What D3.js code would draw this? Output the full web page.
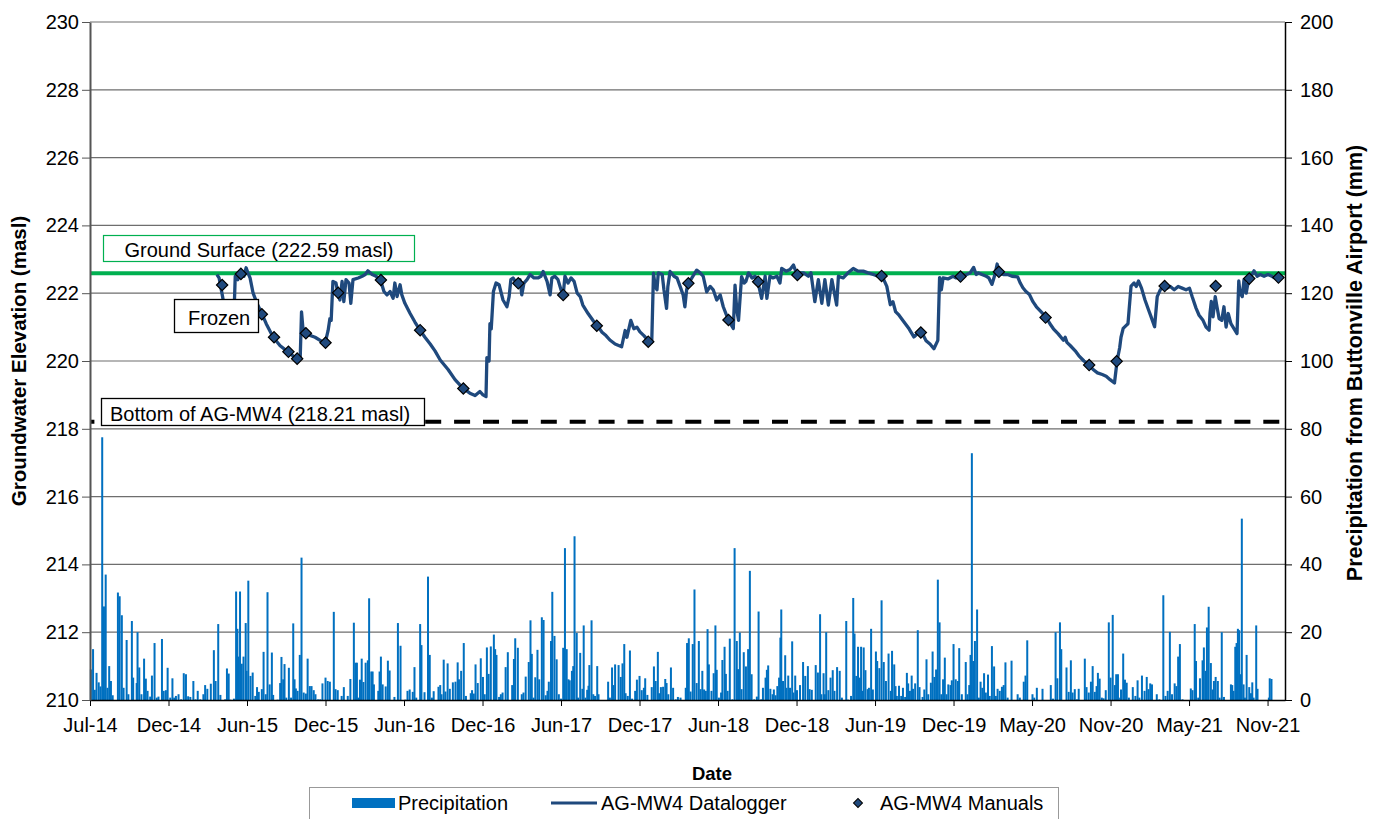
<!DOCTYPE html>
<html>
<head>
<meta charset="utf-8">
<script src="https://cdnjs.cloudflare.com/ajax/libs/d3/7.8.5/d3.min.js"></script>
<style>
  body { margin: 0; background: #fff; }
  svg { display: block; font-family: "Liberation Sans", Arial, sans-serif; }
</style>
</head>
<body>
<script>
'use strict';

// dates are stored as days since 1 Jul 2014
const startDate = new Date(2014, 6, 1);
const axisEndDay = 2740;
const dateTickDays = [0, 180, 360, 540, 720, 900, 1080, 1260, 1440, 1620, 1800, 1980, 2160, 2340, 2520, 2700];
const elevTicks = [210, 212, 214, 216, 218, 220, 222, 224, 226, 228, 230];
const precipTicks = [0, 20, 40, 60, 80, 100, 120, 140, 160, 180, 200];

const groundSurface = 222.59;
const wellBottom = 218.21;

// daily precipitation, Buttonville Airport (mm)
const precipDay = [
  2, 7, 11, 15, 20, 24, 28, 32, 36, 40, 44, 48, 52, 64, 68, 73, 77, 84, 88, 96, 99, 107, 109, 113, 118, 124, 128, 132, 138, 142,
  148, 153, 157, 165, 169, 174, 178, 184, 189, 193, 197, 203, 209, 215, 220, 225, 230, 237, 242, 247, 253, 260, 264, 269, 277, 284,
  288, 294, 299, 310, 314, 318, 322, 330, 335, 338, 340, 344, 348, 352, 357, 359, 363, 368, 373, 379, 383, 387, 394, 398, 403, 407,
  412, 417, 420, 430, 436, 439, 443, 446, 450, 456, 461, 466, 469, 472, 476, 481, 485, 490, 495, 499, 504, 508, 513, 517, 523, 528,
  533, 540, 545,
  550, 559, 563, 568, 577, 582, 591, 597, 605, 609, 612, 615, 619, 623, 627, 632, 637, 640, 645, 648, 651, 661, 664, 667, 671, 678,
  683, 687, 698, 706, 712, 723, 728, 733, 740, 744, 748, 757, 760, 767, 775, 779, 784, 788, 799, 803, 806, 811, 815, 820, 825, 832,
  838, 843, 846, 851, 857, 862, 873, 876, 880, 884, 889, 896, 901, 905, 910, 914, 919, 926, 929, 932, 938, 942, 946, 953, 958, 968,
  972, 975, 981, 990, 994, 999, 1006, 1010, 1013, 1017, 1021, 1026, 1030, 1036, 1040, 1045, 1049, 1052, 1057, 1060, 1065, 1070,
  1075, 1080, 1085, 1089, 1093, 1097,
  1100, 1105, 1108, 1111, 1116, 1119, 1124, 1129, 1132, 1136, 1140, 1143, 1145, 1150, 1154, 1158, 1163, 1166, 1188, 1192, 1197,
  1200, 1204, 1212, 1217, 1221, 1225, 1228, 1233, 1238, 1243, 1250, 1254, 1260, 1265, 1270, 1273, 1278, 1288, 1293, 1297, 1302,
  1305, 1309, 1314, 1319, 1322, 1326, 1332, 1337, 1343, 1348, 1354, 1366, 1369, 1373, 1377, 1382, 1386, 1391, 1396, 1400, 1404,
  1408, 1412, 1416, 1419, 1425, 1430, 1434, 1437, 1442, 1447, 1450, 1455, 1458, 1462, 1467, 1473, 1478, 1483, 1486, 1490, 1494,
  1499, 1504, 1509, 1513, 1517, 1523, 1529, 1533, 1539, 1543, 1549, 1552, 1555, 1560, 1565, 1568, 1572, 1576, 1580, 1583, 1585,
  1589, 1594, 1597, 1601, 1605, 1610, 1613, 1617, 1621, 1628, 1635, 1640, 1646,
  1650, 1655, 1664, 1669, 1674, 1677, 1682, 1685, 1688, 1693, 1698, 1703, 1707, 1713, 1719, 1724, 1734, 1738, 1745, 1750, 1753,
  1757, 1761, 1765, 1768, 1771, 1774, 1778, 1783, 1786, 1791, 1795, 1802, 1805, 1810, 1815, 1820, 1825, 1831, 1836, 1839, 1844,
  1847, 1850, 1855, 1860, 1864, 1869, 1873, 1876, 1880, 1884, 1887, 1892, 1898, 1902, 1909, 1913, 1918, 1922, 1928, 1932, 1936,
  1940, 1944, 1948, 1952, 1956, 1960, 1964, 1968, 1973, 1976, 1980, 1985, 1990, 1993, 1999, 2008, 2012, 2016, 2019, 2022, 2025,
  2029, 2034, 2038, 2042, 2046, 2050, 2054, 2059, 2063, 2068, 2073, 2077, 2081, 2086, 2091, 2095, 2099, 2104, 2113, 2127, 2132,
  2141, 2145, 2149, 2161, 2165, 2171, 2184,
  2203, 2208, 2214, 2218, 2224, 2227, 2239, 2244, 2249, 2253, 2258, 2263, 2267, 2281, 2285, 2290, 2295, 2299, 2304, 2308, 2311,
  2315, 2320, 2324, 2329, 2336, 2340, 2345, 2350, 2353, 2357, 2362, 2364, 2369, 2373, 2377, 2382, 2391, 2397, 2402, 2406, 2412,
  2418, 2423, 2427, 2431, 2435, 2446, 2452, 2461, 2466, 2471, 2476, 2481, 2487, 2491, 2495, 2499, 2505, 2524, 2528, 2533, 2536,
  2541, 2545, 2551, 2554, 2558, 2561, 2565, 2570, 2574, 2577, 2581, 2586, 2590, 2595, 2600, 2616, 2619, 2622, 2626, 2629, 2632,
  2635, 2639, 2641, 2645, 2648, 2652, 2658, 2662, 2665, 2668, 2674, 2677, 2703, 2705, 2709
];
const precipMm = [
  9, 15, 3, 8, 5.2, 4, 77.5, 27.6, 37, 3.6, 10, 5.6, 1.4, 31.7, 30.6, 25, 3.6, 17.7, 1.7, 23.3, 6.6, 5, 20, 9.6, 1.7, 12.2, 6.3, 2.7, 1, 7.2,
  16.8, 0.7, 1, 18, 2.7, 2.9, 9.5, 0.7, 6.4, 0.7, 1.2, 1.7, 0.2, 7.9, 7.6, 1.1, 0.9, 5.6, 0.2, 2.7, 0.2, 1.7, 4.4, 3.3, 4.8, 14.7,
  5.6, 22.4, 1.5, 0.2, 9.3, 7.8, 0.1, 0.4, 32, 21, 12.8, 32, 10.7, 12.8, 22.7, 8.6, 35.2, 7.1, 8.1, 1.2, 3.8, 2.4, 3.2, 14.2, 1.7, 31.8,
  4.6, 14, 1.5, 0.1, 5, 12.7, 6.1, 10.6, 0.7, 9.5, 0.7, 22.6, 6.1, 3.4, 2.7, 13.3, 42, 2.2, 1.9, 12.2, 4.1, 4.1, 2.9, 1.7, 0.2, 0.2,
  4.9, 6.6, 5.6,
  5.4, 26, 3.2, 2.9, 1.2, 3.8, 1.2, 6.2, 22.8, 11, 11, 0.7, 6, 12.2, 5.3, 11, 11.7, 30, 8.4, 8.4, 4.6, 2.7, 8.4, 12.8, 4.6, 4,
  11.6, 8.7, 0.9, 22.7, 16, 0.1, 2.7, 3.1, 2.4, 9.7, 0.7, 22.4, 16.2, 2.3, 36.4, 13.3, 0.7, 2.6, 3.9, 4.4, 1.7, 11.9, 2.5, 10.8, 3.3, 5.2,
  5.4, 11.1, 6.1, 8.6, 16.8, 1.2, 2, 2.9, 1.9, 10.5, 5, 12.3, 6.8, 1.7, 15.5, 7.7, 15.8, 19.3, 15, 13.3, 0.9, 1.7, 2.2, 9.7, 14.1, 4.4,
  12.1, 18.2, 15.4, 1.7, 2.2, 6.9, 11.2, 23.5, 13.6, 0.7, 6.7, 14.8, 6.1, 24.4, 23.6, 1.4, 2.7, 5.4, 17.4, 31.9, 18.9, 12,
  1.7, 0.4, 15.4, 44.8, 15, 6.1,
  5.8, 8.6, 10, 48.3, 19.8, 0.7, 13.9, 3.3, 22, 0.7, 3, 4.2, 10.3, 23.5, 1.7, 1.2, 10, 1.7, 5.4, 0.7, 9.6,
  4.4, 10.5, 10.3, 6.8, 10.8, 16.5, 2, 1.2, 14.6, 0.4, 2.7, 6, 7.1, 2.9, 3.6, 6.4, 1.5, 3.8, 9.9, 5.6, 14.2,
  2, 3.8, 3.9, 6.2, 5, 1.7, 9.6, 3.6, 0.2, 0.9, 0.7, 3.6, 16.8, 18.2, 2.5, 16.5, 32.6, 5, 17.4, 3.2, 8.6,
  3.1, 2.7, 20.9, 10.5, 2.7, 7.9, 22, 8.9, 0.7, 2.2, 11.8, 15.7, 7.7, 2.7, 18.1, 0.2, 44.8, 17.4, 9.1, 19.9, 3.2,
  14.1, 9.9, 15, 38.1, 7.6, 0.2, 1, 26.1, 0.2, 3.6, 6.6, 8.9, 10.2, 3.3, 1.7, 3.1, 1.4, 4.1, 6.6, 18.4, 26.7,
  5.6, 13.2, 3.6, 7.2, 3.6, 17.3, 2.2, 7.2, 2.9, 4.4, 11.2, 7.1, 10,
  3.2, 3, 10.3, 8.1, 25.3, 1.7, 7.9, 1.7, 20, 2.9, 6.6, 8.8, 2.7, 9.7, 8.6, 0.7, 23.3, 0.1, 1.2, 30.1, 19.6,
  7.1, 15.7, 6.6, 15.7, 2.7, 15.5, 8.8, 3.2, 3.6, 21, 3.1, 14.3, 11.5, 9.4, 29.4, 11.2, 5.6, 13.7, 2.7, 14.5, 10.5,
  4.1, 1.2, 4.2, 1.2, 3.6, 0.9, 8, 4.9, 2.7, 7.2, 3.3, 4.9, 20.6, 3.8, 0.9, 3.1, 12, 1.7, 5.1, 14.3, 6.8,
  9, 35.5, 22.9, 1.7, 6.1, 12.5, 1.7, 4.6, 4.4, 5.8, 16.5, 6.1, 5.6, 15.3, 1.7, 11.2, 1.7, 4.4, 13.3, 72.8, 11.5,
  17.4, 26.7, 0.7, 5.4, 3.6, 7.9, 2.2, 7.5, 1.2, 15.9, 9.9, 1.2, 3.3, 2.7, 3.9, 4.4, 11.1, 0.7, 11.6, 1.7, 0.7,
  5.4, 7.2, 17.6, 1.7, 0.7, 3.6, 3.3,
  4.4, 0.4, 20, 6.4, 22.9, 15, 9.6, 2.4, 11.7, 2.2, 3.2, 0.2, 3.3, 12.2, 3.8, 2.2, 5.4, 10, 2.4, 4.1, 8,
  6.3, 0.7, 0.5, 2.9, 22.9, 6.6, 25.1, 4.4, 7.6, 7.6, 0.7, 3.1, 13.7, 6, 5.1, 0.7, 3.8, 1.2, 5.8, 0.7, 7.2,
  2.7, 6.8, 3.2, 4.9, 4.6, 1.7, 0.2, 30.9, 1.2, 2.7, 20.1, 1.7, 4.9, 4.1, 12.8, 16.5, 0.2, 3.4, 2.9, 22.4, 11.5,
  0.7, 6.4, 11.7, 15.5, 8.6, 21.4, 27.5, 10.9, 3.1, 5.6, 6.8, 5.6, 0.7, 20, 0.9, 4.6, 4.4, 2.7, 15.7, 16.8, 21,
  20.6, 7.6, 53.5, 4.6, 0.7, 13.3, 3.8, 2, 5.2, 0.7, 22, 3.3, 0.7, 6.4, 6.2
];

// AG-MW4 datalogger groundwater elevation (masl)
const loggerDay = [
  291, 296, 304, 312, 321, 330, 333, 339, 346, 353, 358, 362, 367, 374, 383, 394, 404, 420, 436, 454,
  475, 482, 485, 488, 495, 516, 539, 546, 550, 553, 557, 564, 569, 573, 578, 582, 587, 594, 598, 603,
  615, 624, 631, 637, 647, 656, 667, 674, 681, 688, 695, 699, 704, 711, 715, 722, 734, 745, 757, 768,
  780, 791, 803, 821, 837, 855, 871, 883, 894, 901, 908, 910, 915, 917, 920, 925, 931, 938, 947, 956,
  961, 965, 970, 975, 981, 986, 990, 995, 1002, 1009, 1018, 1027, 1034, 1039, 1048, 1055, 1059, 1066, 1073, 1080,
  1085, 1089, 1096, 1103, 1110, 1117, 1124, 1130, 1142, 1153, 1163, 1174, 1183, 1192, 1204, 1219, 1227, 1231, 1240, 1247,
  1254, 1261, 1270, 1280, 1288, 1292, 1296, 1300, 1303, 1312, 1316, 1322, 1325, 1330, 1339, 1346, 1353, 1360, 1364, 1368,
  1372, 1380, 1391, 1399, 1406, 1414, 1422, 1429, 1437, 1445, 1452, 1464, 1475, 1479, 1483, 1487, 1494, 1500, 1504, 1510,
  1518, 1525, 1532, 1540, 1548, 1552, 1559, 1566, 1575, 1582, 1586, 1596, 1605, 1613, 1621, 1628, 1636, 1647, 1653, 1662,
  1670, 1678, 1685, 1693, 1701, 1712, 1716, 1727, 1738, 1750, 1761, 1773, 1784, 1796, 1807, 1815, 1827, 1835, 1841, 1847,
  1855, 1866, 1878, 1889, 1905, 1917, 1926, 1935, 1944, 1948, 1952, 1956, 1967, 1979, 1986, 1995, 2010, 2018, 2026, 2032,
  2037, 2045, 2055, 2061, 2068, 2075, 2080, 2084, 2094, 2104, 2114, 2127, 2133, 2139, 2146, 2154, 2162, 2170, 2181, 2193,
  2201, 2209, 2220, 2232, 2236, 2240, 2248, 2259, 2267, 2279, 2291, 2300, 2310, 2321, 2330, 2339, 2349, 2355, 2361, 2364,
  2369, 2376, 2380, 2387, 2394, 2399, 2404, 2411, 2419, 2427, 2433, 2441, 2447, 2454, 2462, 2470, 2477, 2486, 2495, 2504,
  2513, 2521, 2527, 2536, 2543, 2552, 2559, 2566, 2568, 2571, 2575, 2580, 2584, 2589, 2595, 2600, 2605, 2610, 2616, 2630,
  2634, 2637, 2642, 2646, 2651, 2657, 2662, 2669, 2676, 2683, 2692, 2701, 2710, 2717
];
const loggerElev = [
  222.55, 222.45, 221.9, 221.3, 221.0, 221.3, 222.5, 222.4, 222.6, 222.5, 222.75, 222.6, 222.45, 222.0, 221.7, 221.4, 221.1, 220.7, 220.45, 220.27,
  220.05, 220.1, 221.45, 221.0, 220.8, 220.7, 220.52, 220.9, 221.25, 221.2, 222.35, 222.3, 221.95, 221.8, 222.35, 221.75, 222.4, 222.3, 221.7, 222.4,
  222.45, 222.5, 222.55, 222.66, 222.55, 222.5, 222.35, 222.05, 221.95, 222.05, 221.85, 222.3, 221.9, 222.25, 221.95, 221.7, 221.4, 221.15, 220.9, 220.7,
  220.5, 220.3, 220.03, 219.75, 219.45, 219.2, 219.05, 218.98, 219.1, 219.0, 218.95, 220.1, 220.0, 221.1, 220.95, 222.05, 222.3, 222.25, 221.8, 221.6,
  221.9, 222.4, 222.45, 222.35, 222.3, 222.4, 221.95, 222.3, 222.4, 222.55, 222.45, 222.45, 222.5, 222.64, 222.35, 221.95, 222.45, 222.5, 222.4, 222.1,
  221.95, 222.5, 222.3, 222.45, 222.35, 222.0, 221.9, 221.65, 221.4, 221.2, 221.05, 220.85, 220.75, 220.62, 220.5, 220.42, 220.9, 220.7, 221.2, 220.95,
  221.0, 220.86, 220.75, 220.6, 220.55, 222.59, 222.2, 222.1, 222.6, 222.55, 222.1, 221.55, 222.2, 222.64, 222.5, 222.45, 222.2, 221.95, 221.6, 222.1,
  222.3, 222.45, 222.68, 222.6, 222.5, 222.04, 222.2, 222.1, 221.8, 221.95, 221.6, 221.2, 220.96, 222.24, 221.5, 221.2, 222.49, 222.3, 222.35, 222.6,
  222.45, 222.5, 222.3, 221.85, 222.5, 221.85, 222.5, 222.45, 222.5, 222.3, 222.73, 222.65, 222.7, 222.83, 222.55, 222.6, 222.6, 222.5, 222.6, 221.75,
  222.4, 221.7, 222.4, 221.65, 222.4, 221.65, 222.5, 222.45, 222.6, 222.73, 222.65, 222.65, 222.6, 222.55, 222.5, 222.54, 222.2, 221.66, 221.75, 221.46,
  221.35, 221.16, 220.95, 220.71, 220.9, 220.6, 220.5, 220.36, 220.61, 222.46, 222.1, 222.45, 222.42, 222.5, 222.45, 222.51, 222.55, 222.6, 222.76, 222.55,
  222.6, 222.55, 222.5, 222.45, 222.26, 222.55, 222.86, 222.6, 222.55, 222.55, 222.5, 222.48, 222.3, 222.16, 222.05, 221.96, 221.75, 221.6, 221.45, 221.28,
  221.1, 220.95, 220.8, 220.61, 220.7, 220.55, 220.45, 220.3, 220.16, 220.0, 219.88, 219.75, 219.65, 219.6, 219.55, 219.45, 219.35, 220.0, 220.4, 220.7,
  220.96, 221.05, 221.1, 222.21, 222.3, 222.2, 222.36, 222.15, 221.8, 221.51, 221.3, 221.01, 221.9, 222.1, 222.2, 222.15, 222.2, 222.1, 222.2, 222.15,
  222.1, 222.15, 221.9, 221.56, 221.35, 221.2, 221.0, 220.91, 221.4, 221.76, 221.3, 221.9, 221.6, 221.25, 221.2, 221.6, 221.0, 221.4, 221.1, 220.81,
  222.36, 222.0, 221.9, 222.4, 222.0, 222.44, 222.5, 222.66, 222.5, 222.55, 222.5, 222.55, 222.5, 222.45
];

// AG-MW4 manual water levels (masl)
const manualDay = [303, 346, 394, 422, 455, 475, 495, 540, 569, 667, 757, 856, 982, 1085, 1162, 1280, 1372, 1464, 1532, 1622,
  1815, 1905, 1996, 2084, 2191, 2291, 2354, 2464, 2581, 2658, 2725];
const manualElev = [222.24, 222.57, 221.38, 220.70, 220.27, 220.07, 220.82, 220.54, 222.01, 222.39, 220.91, 219.19, 222.29, 221.95, 221.04,
  220.57, 222.29, 221.21, 222.34, 222.54, 222.51, 220.84, 222.49, 222.63, 221.28, 219.88, 219.99, 222.21, 222.21, 222.43, 222.46];

const blue = "#0070C0";
const navy = "#1F497D";
const green = "#00B050";

(function() {
  let svg = d3.select("body").append("svg")
    .attr("width", 1382)
    .attr("height", 819);

  let plot = {left: 90, right: 1285, top: 22, bottom: 700};

  let dayToDate = (d) => d3.timeDay.offset(startDate, d);

  let x = d3.scaleTime()
    .domain([startDate, dayToDate(axisEndDay)])
    .range([plot.left, plot.right]);
  let yLeft = d3.scaleLinear().domain([210, 230]).range([plot.bottom, plot.top]);
  let yRight = d3.scaleLinear().domain([0, 200]).range([plot.bottom, plot.top]);

  drawGrid();
  plotPrecip();
  drawReferenceLines();
  plotLogger();
  drawAxes();
  makeLabels();
  makeLegend();

  function drawGrid() {
    svg.append("g")
      .selectAll("line")
      .data(elevTicks.slice(1))
      .enter()
      .append("line")
        .attr("x1", plot.left)
        .attr("x2", plot.right)
        .attr("y1", (d) => yLeft(d))
        .attr("y2", (d) => yLeft(d))
        .attr("stroke", "#6e6e6e")
        .attr("stroke-width", 1.2);
  }

  function plotPrecip() {
    let rows = precipDay.map((d, i) => ({day: d, mm: precipMm[i]}));
    svg.append("g")
      .selectAll("rect")
      .data(rows)
      .enter()
      .append("rect")
        .attr("x", (d) => x(dayToDate(d.day)) - 1)
        .attr("width", 2)
        .attr("y", (d) => yRight(d.mm))
        .attr("height", (d) => yRight(0) - yRight(d.mm))
        .attr("fill", blue);
  }

  function drawReferenceLines() {
    svg.append("line")
      .attr("x1", plot.left).attr("x2", plot.right)
      .attr("y1", yLeft(groundSurface)).attr("y2", yLeft(groundSurface))
      .attr("stroke", green)
      .attr("stroke-width", 4);

    svg.append("line")
      .attr("x1", plot.left).attr("x2", plot.right - 2)
      .attr("y1", yLeft(wellBottom)).attr("y2", yLeft(wellBottom))
      .attr("stroke", "#000")
      .attr("stroke-width", 4)
      .attr("stroke-dasharray", "16,12.9")
      .attr("stroke-dashoffset", 11.6);
  }

  function plotLogger() {
    let rows = loggerDay.map((d, i) => ({day: d, elev: loggerElev[i]}));
    let line = d3.line()
      .x((d) => x(dayToDate(d.day)))
      .y((d) => yLeft(d.elev));

    svg.append("path")
      .datum(rows)
      .attr("fill", "none")
      .attr("stroke", navy)
      .attr("stroke-width", 3.3)
      .attr("stroke-linejoin", "round")
      .attr("d", line);

    let manuals = manualDay.map((d, i) => ({day: d, elev: manualElev[i]}));
    svg.append("g")
      .selectAll("path")
      .data(manuals)
      .enter()
      .append("path")
        .attr("d", d3.symbol(d3.symbolSquare, 64))
        .attr("transform", (d) => "translate(" + x(dayToDate(d.day)) + "," + yLeft(d.elev) + ")rotate(45)")
        .attr("fill", navy)
        .attr("stroke", "#000")
        .attr("stroke-width", 1.2);
  }

  function drawAxes() {
    let xAxis = d3.axisBottom(x)
      .tickValues(dateTickDays.map(dayToDate))
      .tickFormat(d3.timeFormat("%b-%y"))
      .tickSize(6)
      .tickSizeOuter(0);
    let gx = svg.append("g")
      .attr("transform", "translate(0," + plot.bottom + ")")
      .call(xAxis);
    gx.select(".domain").attr("stroke", "#000").attr("stroke-width", 1.5);
    gx.selectAll("line").attr("stroke", "#000");
    gx.selectAll("text")
      .attr("y", 18)
      .attr("fill", "#000")
      .style("font-size", "20px");

    let gl = svg.append("g")
      .attr("transform", "translate(" + plot.left + ",0)")
      .call(d3.axisLeft(yLeft).tickValues(elevTicks).tickSize(8).tickSizeOuter(0).tickPadding(3));
    gl.select(".domain").attr("stroke", "#555").attr("stroke-width", 2);
    gl.selectAll("line").attr("stroke", "#555");
    gl.selectAll("text").attr("fill", "#000").style("font-size", "20px");

    let gr = svg.append("g")
      .attr("transform", "translate(" + plot.right + ",0)")
      .call(d3.axisRight(yRight).tickValues(precipTicks).tickSize(7).tickSizeOuter(0).tickPadding(8));
    gr.select(".domain").attr("stroke", "#000").attr("stroke-width", 1.5);
    gr.selectAll("line").attr("stroke", "#000");
    gr.selectAll("text").attr("fill", "#000").style("font-size", "20px");
  }

  function makeLabels() {
    svg.append("rect")
      .attr("x", 103.5).attr("y", 235.5)
      .attr("width", 311).attr("height", 26)
      .attr("fill", "#fff")
      .attr("stroke", green)
      .attr("stroke-width", 1.2);
    svg.append("text")
      .attr("x", 259).attr("y", 257)
      .attr("text-anchor", "middle")
      .style("font-size", "20px")
      .text("Ground Surface (222.59 masl)");

    svg.append("rect")
      .attr("x", 101.5).attr("y", 398.5)
      .attr("width", 323).attr("height", 27)
      .attr("fill", "#fff")
      .attr("stroke", "#000")
      .attr("stroke-width", 1.3);
    svg.append("text")
      .attr("x", 110).attr("y", 421)
      .style("font-size", "20px")
      .text("Bottom of AG-MW4 (218.21 masl)");

    svg.append("rect")
      .attr("x", 174.5).attr("y", 299.5)
      .attr("width", 84).attr("height", 33)
      .attr("fill", "#fff")
      .attr("stroke", "#000")
      .attr("stroke-width", 1.3);
    svg.append("text")
      .attr("x", 188).attr("y", 325)
      .style("font-size", "20px")
      .text("Frozen");

    svg.append("text")
      .attr("transform", "translate(26,361)rotate(-90)")
      .attr("text-anchor", "middle")
      .style("font-size", "20.5px")
      .style("font-weight", "bold")
      .text("Groundwater Elevation (masl)");

    svg.append("text")
      .attr("transform", "translate(1362,363)rotate(-90)")
      .attr("text-anchor", "middle")
      .style("font-size", "21.5px")
      .style("font-weight", "bold")
      .text("Precipitation from Buttonville Airport (mm)");

    svg.append("text")
      .attr("x", 712).attr("y", 780)
      .attr("text-anchor", "middle")
      .style("font-size", "18.5px")
      .style("font-weight", "bold")
      .text("Date");
  }

  function makeLegend() {
    let g = svg.append("g");
    g.append("rect")
      .attr("x", 309.5).attr("y", 787.5)
      .attr("width", 749).attr("height", 40)
      .attr("fill", "#fff")
      .attr("stroke", "#999")
      .attr("stroke-width", 1);

    g.append("rect")
      .attr("x", 352).attr("y", 798)
      .attr("width", 43).attr("height", 10)
      .attr("fill", blue);
    g.append("text")
      .attr("x", 398).attr("y", 810)
      .style("font-size", "20px")
      .text("Precipitation");

    g.append("line")
      .attr("x1", 551).attr("x2", 597)
      .attr("y1", 803).attr("y2", 803)
      .attr("stroke", navy)
      .attr("stroke-width", 3);
    g.append("text")
      .attr("x", 601).attr("y", 810)
      .style("font-size", "20px")
      .text("AG-MW4 Datalogger");

    g.append("path")
      .attr("d", d3.symbol(d3.symbolSquare, 40))
      .attr("transform", "translate(858,803)rotate(45)")
      .attr("fill", navy)
      .attr("stroke", "#000")
      .attr("stroke-width", 1);
    g.append("text")
      .attr("x", 880).attr("y", 810)
      .style("font-size", "20px")
      .text("AG-MW4 Manuals");
  }
})();
</script>
</body>
</html>
